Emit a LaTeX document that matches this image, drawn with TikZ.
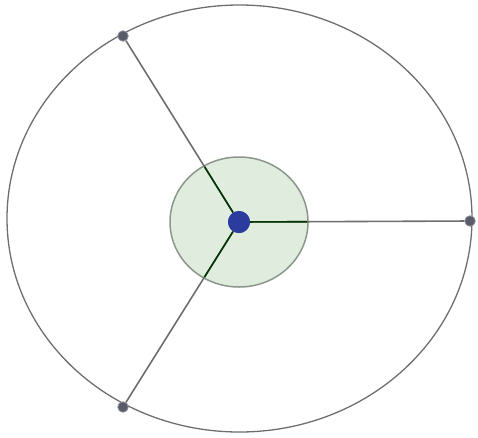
\documentclass[tikz,border=0pt]{standalone}
\usepackage{tikz}
\usetikzlibrary{positioning, calc}
\definecolor{orbitgray}{HTML}{6E6E6E}
\definecolor{corefill}{HTML}{E0ECDD}
\definecolor{coreedge}{HTML}{8A978A}
\definecolor{hubblue}{HTML}{2B3C9E}
\definecolor{satgray}{HTML}{5A5C6A}
\tikzset{
  orbit/.style = {draw=orbitgray, line width=1.3pt},
  core/.style  = {draw=coreedge, fill=corefill, line width=1.5pt},
  spoke/.style = {draw=orbitgray, line width=1.6pt},
  hub/.style   = {circle, fill=hubblue, minimum size=22pt, inner sep=0pt},
  sat/.style   = {circle, draw=satgray!70, fill=satgray, line width=0.8pt,
                  minimum size=10.5pt, inner sep=0pt},
}

\begin{document}
\begin{tikzpicture}[x=1pt, y=-1pt]
  \useasboundingbox (0,0) rectangle (478,437);
  % outer orbit
  \draw[orbit] (239.5,218.5) ellipse [x radius=232.5, y radius=213.5];
  % inner disc
  \draw[core] (239,222) ellipse [x radius=69, y radius=65];
  % nodes
  \node[hub] (c) at (239,222) {};
  \node[sat] (p1) at (123,36) {};
  \node[sat] (p2) at (470,221) {};
  \node[sat] (p3) at (123,407) {};
  % spokes
  \foreach \p in {p1,p2,p3}{
    \draw[spoke] (c) -- (\p);
  }
  % darker part of the spokes inside the disc
  \begin{scope}
    \clip (239,222) ellipse [x radius=68, y radius=64];
    \foreach \p in {p1,p2,p3}{
      \draw[spoke, draw=black!65!green!60!black] (c) -- (\p);
    }
  \end{scope}
  \node[hub] at (c) {};
\end{tikzpicture}
\end{document}
